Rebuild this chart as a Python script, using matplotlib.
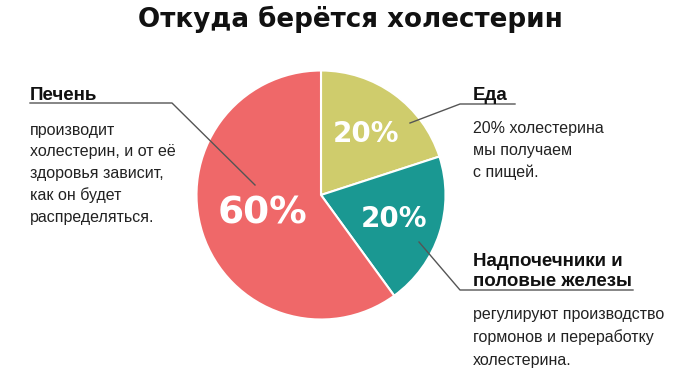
import matplotlib
matplotlib.use("Agg")
import matplotlib.pyplot as plt
import numpy as np
from matplotlib import font_manager

available = {f.name for f in font_manager.fontManager.ttflist}
body_font = "Liberation Sans Narrow" if "Liberation Sans Narrow" in available else "Liberation Sans"
head_font = "Liberation Sans"
title_font = "DejaVu Sans"

# ---- data ----
title = "Откуда берётся холестерин"
categories = ["Еда", "Надпочечники и\nполовые железы", "Печень"]
values = [20, 20, 60]
pct_labels = ["20%", "20%", "60%"]
colors = ["#CFCC6C", "#1A9892", "#EF6869"]
descriptions = [
    ["20% холестерина", "мы получаем", "с пищей."],
    ["регулируют производство", "гормонов и переработку", "холестерина."],
    ["производит", "холестерин, и от её", "здоровья зависит,", "как он будет", "распределяться."],
]

W, H = 700, 378
fig = plt.figure(figsize=(7, 3.78), dpi=100)
ax = fig.add_axes([0, 0, 1, 1])
ax.set_xlim(0, W)
ax.set_ylim(0, H)
ax.set_aspect("equal")
ax.axis("off")

def Y(y):
    return H - y

cx, cy, R = 321, Y(195), 124.5
wedges, _ = ax.pie(values, colors=colors, startangle=90, counterclock=False,
                   center=(cx, cy), radius=R,
                   wedgeprops=dict(edgecolor="white", linewidth=1.5))
ax.set_xlim(0, W)
ax.set_ylim(0, H)

# percent labels
pct_dist = [0.61, 0.62, 0.49]
pct_size = [20, 20, 27]
for w, lab, d, s in zip(wedges, pct_labels, pct_dist, pct_size):
    th = np.deg2rad((w.theta1 + w.theta2) / 2)
    ax.text(cx + d * R * np.cos(th), cy + d * R * np.sin(th), lab,
            ha="center", va="center", color="white", fontsize=s,
            fontweight="bold", family=title_font)

line_color = "#555555"
# Еда
ax.plot([410, 460, 515], [Y(123), Y(104), Y(104)], color=line_color, lw=1)
# Надпочечники
ax.plot([419, 460, 633], [Y(242), Y(290), Y(290)], color=line_color, lw=1)
# Печень
ax.plot([255, 172, 30], [Y(185), Y(103), Y(103)], color=line_color, lw=1)

# headings
ax.text(473, Y(100), "Еда", ha="left", va="baseline", fontsize=13.5,
        fontweight="bold", family=head_font, color="#111111")
ax.text(473, Y(286), "Надпочечники и\nполовые железы", ha="left", va="baseline",
        fontsize=13.5, fontweight="bold", family=head_font, color="#111111",
        linespacing=1.2)
ax.text(30, Y(100), "Печень", ha="left", va="baseline", fontsize=13.5,
        fontweight="bold", family=head_font, color="#111111")

def body(x, y0, lines, step=22):
    for i, ln in enumerate(lines):
        ax.text(x, Y(y0 + i * step), ln, ha="left", va="center", fontsize=11.5,
                family=body_font, color="#222222")

body(473, 128, descriptions[0])
body(473, 315, descriptions[1], step=22.5)
body(30, 130, descriptions[2], step=21.8)

ax.text(350, Y(19), title, ha="center", va="center", fontsize=18.8,
        fontweight="bold", family=title_font, color="#111111")

fig.savefig("out.png", dpi=100)
